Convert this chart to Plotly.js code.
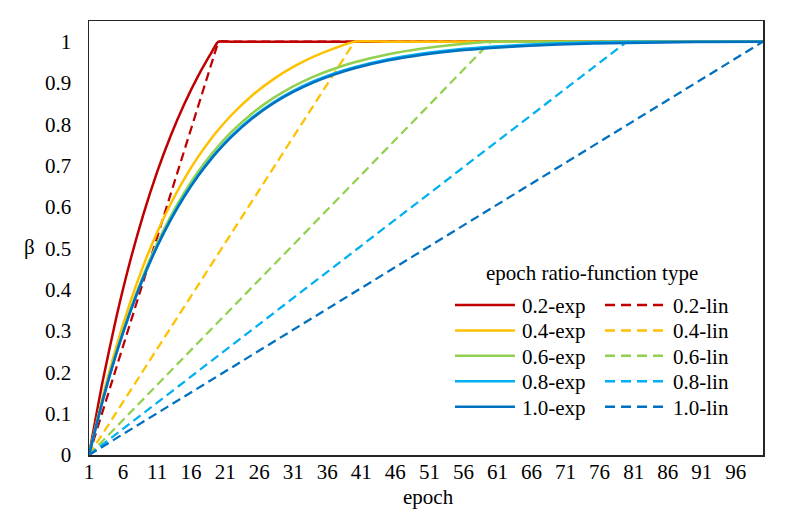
<!DOCTYPE html>
<html>
<head>
<meta charset="utf-8">
<script src="https://cdn.plot.ly/plotly-3.0.1.min.js"></script>
<style>html,body{margin:0;padding:0;background:#fff;}#chart{width:789px;height:526px;}</style>
</head>
<body>
<div id="chart"></div>
<script>
// epochs at which the exponential curves were read
const expEpochs = [1,3,5,7,9,11,13,15,17,19,20,22,25,28,31,34,37,40,45,50,55,60,65,70,75,80,90,100];
const exp02 = [0,0.1776,0.3320,0.4663,0.5830,0.6844,0.7726,0.8493,0.9160,0.9739,1,1,1,1,1,1,1,1,1,1,1,1,1,1,1,1,1,1];
const exp04 = [0,0.1398,0.2613,0.3669,0.4587,0.5385,0.6079,0.6683,0.7207,0.7663,0.7868,0.8238,0.8704,0.9082,0.9388,0.9636,0.9837,1,1,1,1,1,1,1,1,1,1,1];
const exp06 = [0,0.1328,0.2482,0.3486,0.4358,0.5116,0.5776,0.6349,0.6847,0.7281,0.7475,0.7827,0.8269,0.8628,0.8919,0.9155,0.9346,0.9501,0.9696,0.9834,0.9932,1,1,1,1,1,1,1];
const exp08 = [0,0.1312,0.2452,0.3443,0.4305,0.5054,0.5706,0.6272,0.6764,0.7192,0.7384,0.7731,0.8169,0.8523,0.8810,0.9043,0.9232,0.9385,0.9578,0.9715,0.9811,0.9878,0.9926,0.9960,0.9983,1,1,1];
const exp10 = [0,0.1308,0.2445,0.3433,0.4292,0.5039,0.5688,0.6253,0.6744,0.7171,0.7362,0.7708,0.8144,0.8498,0.8784,0.9016,0.9204,0.9357,0.9550,0.9686,0.9781,0.9849,0.9896,0.9930,0.9954,0.9970,0.9990,1];

// linear schedules: start, reach 1, stay at 1
const lin02x = [1,20,100], lin02 = [0,1,1];
const lin04x = [1,40,100], lin04 = [0,1,1];
const lin06x = [1,60,100], lin06 = [0,1,1];
const lin08x = [1,80,100], lin08 = [0,1,1];
const lin10x = [1,100],    lin10 = [0,1];

const expNames = ['0.2-exp','0.4-exp','0.6-exp','0.8-exp','1.0-exp'];
const linNames = ['0.2-lin','0.4-lin','0.6-lin','0.8-lin','1.0-lin'];
const colors = ['#C00000','#FFC000','#92D050','#00B0F0','#0070C0'];
const xTickVals = [1,6,11,16,21,26,31,36,41,46,51,56,61,66,71,76,81,86,91,96];
const yTickVals = [0,0.1,0.2,0.3,0.4,0.5,0.6,0.7,0.8,0.9,1];
const yTickText = ['0','0.1','0.2','0.3','0.4','0.5','0.6','0.7','0.8','0.9','1'];
const legendTitle = 'epoch ratio-function type';

const expSeries = [exp02, exp04, exp06, exp08, exp10];
const linX = [lin02x, lin04x, lin06x, lin08x, lin10x];
const linY = [lin02, lin04, lin06, lin08, lin10];

const FONT = 'Liberation Serif, Times New Roman, serif';
const FS = 21;
const PLOT_DASH = '9px,5px';
const traces = [];
for (let i = 0; i < 5; i++) {
  traces.push({
    x: linX[i], y: linY[i], name: linNames[i], mode: 'lines', showlegend: false,
    line: {color: colors[i], width: 2.25, dash: PLOT_DASH}
  });
}
for (let i = 0; i < 5; i++) {
  traces.push({
    x: expEpochs, y: expSeries[i], name: expNames[i], mode: 'lines', showlegend: false,
    line: {color: colors[i], width: 2.5, shape: 'spline', smoothing: 0.6}
  });
}

// legend drawn as paper-positioned samples + text (two columns)
const shapes = [];
const annotations = [];
const col1 = {x0: 0.5430, x1: 0.6320, tx: 0.6395};
const col2 = {x0: 0.7656, x1: 0.8516, tx: 0.8635};
const row0 = 0.3456, rowStep = 0.0586;
for (let i = 0; i < 5; i++) {
  const y = row0 - i * rowStep;
  shapes.push({type: 'line', xref: 'paper', yref: 'paper', x0: col1.x0, x1: col1.x1, y0: y, y1: y,
               line: {color: colors[i], width: 2.5}});
  shapes.push({type: 'line', xref: 'paper', yref: 'paper', x0: col2.x0, x1: col2.x1, y0: y, y1: y,
               line: {color: colors[i], width: 2.5, dash: '10px,6px'}});
  annotations.push({text: expNames[i], xref: 'paper', yref: 'paper', x: col1.tx, y: y - 0.002,
                    xanchor: 'left', yanchor: 'middle', showarrow: false,
                    font: {family: FONT, size: FS, color: '#000'}});
  annotations.push({text: linNames[i], xref: 'paper', yref: 'paper', x: col2.tx, y: y - 0.002,
                    xanchor: 'left', yanchor: 'middle', showarrow: false,
                    font: {family: FONT, size: FS, color: '#000'}});
}
annotations.push({text: legendTitle, xref: 'paper', yref: 'paper', x: 0.746, y: 0.419, showarrow: false,
   font: {family: FONT, size: FS, color: '#000'}, xanchor: 'center', yanchor: 'middle'});
annotations.push({text: 'β', xref: 'paper', yref: 'paper', x: -0.089, y: 0.479, showarrow: false,
   font: {family: FONT, size: FS, color: '#000'}, xanchor: 'center', yanchor: 'middle'});
annotations.push({text: 'epoch', xref: 'paper', yref: 'paper', x: 0.503, y: -0.0968, showarrow: false,
   font: {family: FONT, size: FS, color: '#000'}, xanchor: 'center', yanchor: 'middle'});

const layout = {
  width: 789, height: 526,
  margin: {l: 89, r: 26, t: 21, b: 71},
  paper_bgcolor: '#fff', plot_bgcolor: '#fff',
  font: {family: FONT, size: FS, color: '#000'},
  showlegend: false,
  xaxis: {
    range: [1, 100], tickvals: xTickVals, ticktext: xTickVals.map(String),
    showgrid: false, zeroline: false, ticks: '', ticklabelstandoff: -3,
    showline: true, mirror: true, linecolor: '#262626', linewidth: 1.5,
    tickfont: {family: FONT, size: FS, color: '#000'}
  },
  yaxis: {
    range: [0, 1.05], tickvals: yTickVals, ticktext: yTickText,
    showgrid: false, zeroline: false, ticks: '', ticklabelstandoff: 12,
    showline: true, mirror: true, linecolor: '#262626', linewidth: 1.5,
    tickfont: {family: FONT, size: FS, color: '#000'}
  },
  shapes: shapes,
  annotations: annotations
};

Plotly.newPlot('chart', traces, layout, {staticPlot: true, displayModeBar: false});
</script>
</body>
</html>
